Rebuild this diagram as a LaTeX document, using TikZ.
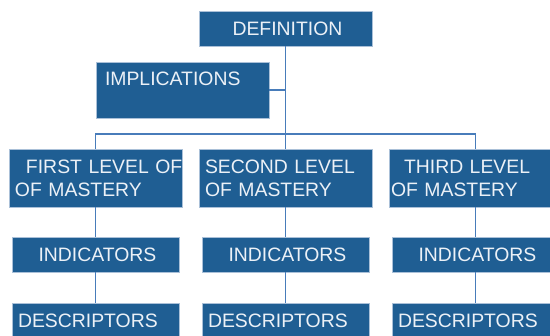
\documentclass[tikz,border=0pt]{standalone}
\usepackage{fontspec}
\setmainfont{Liberation Sans}
\usetikzlibrary{positioning}

\begin{document}
\begin{tikzpicture}[x=1pt, y=-1pt,
    box/.style={rectangle, fill=boxblue, draw=boxedge, line width=0.8pt, text=boxtext, inner xsep=6pt, inner ysep=0pt, font=\fontsize{19.4}{23}\selectfont},
    head/.style={box, minimum width=173pt, minimum height=35pt},
    level/.style={box, text width=161pt, minimum height=58pt, align=left},
    leaf/.style={box, minimum width=167pt, minimum height=35pt},
    link/.style={linkblue, line width=1.7pt}]
        % Colours of the chart
        \definecolor{boxblue}{RGB}{31,94,147}
        \definecolor{boxedge}{RGB}{170,192,216}
        \definecolor{boxtext}{RGB}{236,241,247}
        \definecolor{linkblue}{RGB}{72,124,186}

        \useasboundingbox (0,0) rectangle (550,336);

        % Top box - Definition
        \node[head] (def) at (285.5,28.5) {\hspace*{4pt}DEFINITION};

        % Side box - Implications
        \node[level, minimum height=56pt] (impl) at (182.5,90) {\hspace*{3pt}IMPLICATIONS\\[-8pt]\strut};

        % Levels of mastery
        \node[level] (lev1) at (95.5,178) {\mbox{\hspace*{11pt}FIRST LEVEL OF}\\OF MASTERY};
        \node[level] (lev2) at (285.5,178) {SECOND LEVEL\\OF MASTERY};
        \node[level] (lev3) at (475.5,178) {\hspace*{9pt}THIRD LEVEL\\\hspace*{-4pt}OF MASTERY};

        % Indicators
        \node[leaf] (ind1) at (95.5,254.5) {\hspace*{4pt}INDICATORS};
        \node[leaf] (ind2) at (285.5,254.5) {\hspace*{4pt}INDICATORS};
        \node[leaf] (ind3) at (475.5,254.5) {\hspace*{4pt}INDICATORS};

        % Descriptors
        \node[leaf, text width=155pt, align=left] (desc1) at (95.5,320.5) {DESCRIPTORS};
        \node[leaf, text width=155pt, align=left] (desc2) at (285.5,320.5) {DESCRIPTORS};
        \node[leaf, text width=155pt, align=left] (desc3) at (475.5,320.5) {DESCRIPTORS};

        % Connecting lines
        \coordinate (fork) at (285.5,134);
        \draw[link] (def) -- (lev2);
        \draw[link] (lev1.north) |- (fork) -| (lev3.north);
        \draw[link] (impl.east) -- (impl.east -| def.south);
        \draw[link] (lev1) -- (ind1);
        \draw[link] (lev2) -- (ind2);
        \draw[link] (lev3) -- (ind3);
        \draw[link] (ind1) -- (desc1);
        \draw[link] (ind2) -- (desc2);
        \draw[link] (ind3) -- (desc3);
    \end{tikzpicture}
\end{document}
